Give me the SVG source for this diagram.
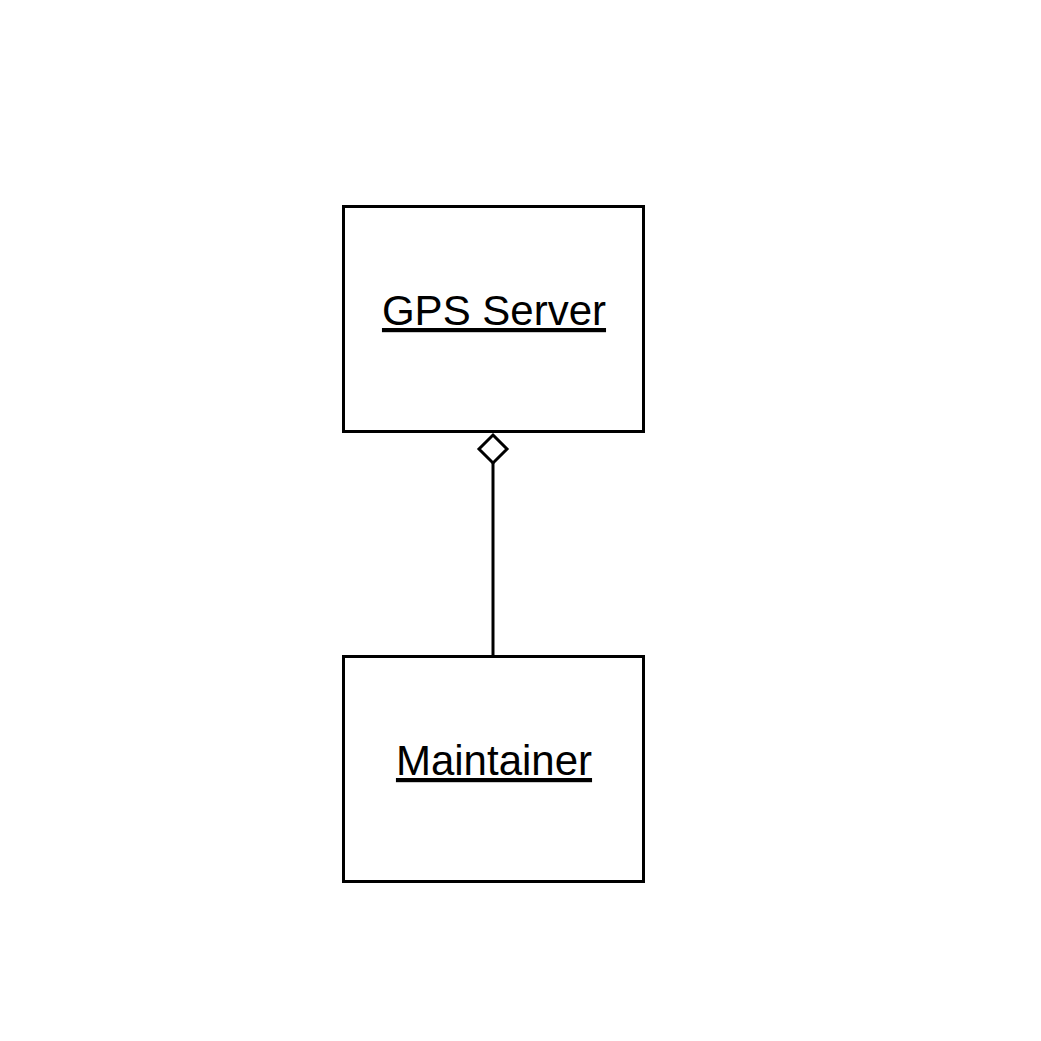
<svg xmlns="http://www.w3.org/2000/svg" width="1041" height="1041" viewBox="0 0 1041 1041">
<style>
.box{fill:#fff;stroke:#000;stroke-width:3}
.lbl{font-family:"Liberation Sans",Arial,sans-serif;font-size:42px;fill:#000;text-anchor:middle;text-decoration:underline}
.edge{fill:none;stroke:#000;stroke-width:3}
</style>
<rect width="1041" height="1041" fill="#fff"/>
<g id="connectors">
<line class="edge" x1="493" y1="462" x2="493" y2="656"/>
<path class="edge" d="M493 435 L507 449 L493 463 L479 449 Z" fill="#fff"/>
</g>
<g id="gps-server">
<rect class="box" x="343.5" y="206.5" width="300" height="225"/>
<text class="lbl" x="494" y="325">GPS Server</text>
</g>
<g id="maintainer">
<rect class="box" x="343.5" y="656.5" width="300" height="225"/>
<text class="lbl" x="494" y="775">Maintainer</text>
</g>
</svg>
